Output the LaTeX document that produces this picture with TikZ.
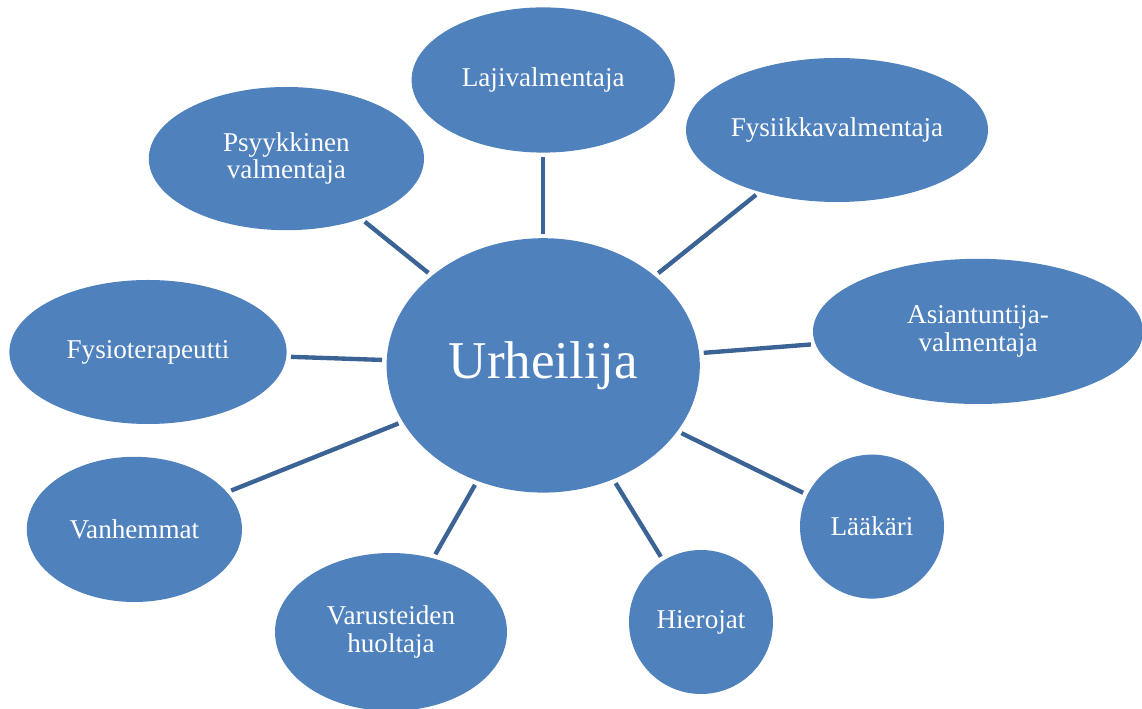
\documentclass[tikz,border=0pt]{standalone}
\usepackage{fontspec}
\setmainfont{Liberation Serif}
\usepackage{tikz}
\usetikzlibrary{shapes.geometric}
\definecolor{bubblefill}{HTML}{4F81BD}
\definecolor{linkline}{HTML}{3B6396}

\begin{document}
\begin{tikzpicture}
[
	bubble/.style={ellipse,fill=bubblefill,inner sep=0pt,text=white,align=center,
		font=\fontsize{19.3}{19.5}\selectfont},
	center/.style={bubble,font=\fontsize{37.8}{40}\selectfont},
	link/.style={linkline,line width=3.1pt,shorten <=0.11cm,shorten >=0.11cm}
]
\useasboundingbox (0,0) rectangle (28.55,17.725);

\node (urh) [center,minimum width=7.83cm,minimum height=6.36cm] at(13.58,8.59) {Urheilija};

\node (laji) [bubble,minimum width=6.58cm,minimum height=3.63cm] at(13.58,15.725) {Lajivalmentaja};
\node (fysiikka) [bubble,minimum width=7.55cm,minimum height=3.6cm] at(20.925,14.475) {Fysiikkavalmentaja};
\node (psyyk) [bubble,minimum width=6.88cm,minimum height=3.58cm] at(7.16,13.76) {Psyykkinen\\valmentaja};
\node (asiant) [bubble,minimum width=8.25cm,minimum height=3.63cm] at(24.45,9.44) {Asiantuntija-\\valmentaja};
\node (fysiot) [bubble,minimum width=6.93cm,minimum height=3.6cm] at(3.70,8.925) {Fysioterapeutti};
\node (vanh) [bubble,minimum width=5.38cm,minimum height=3.63cm] at(3.36,4.49) {Vanhemmat};
\node (laak) [bubble,minimum width=3.6cm,minimum height=3.6cm] at(21.8,4.56) {Lääkäri};
\node (hier) [bubble,minimum width=3.6cm,minimum height=3.6cm] at(17.525,2.175) {Hierojat};
\node (varus) [bubble,minimum width=5.8cm,minimum height=3.95cm] at(9.775,1.925) {Varusteiden\\huoltaja};

\draw [link] (laji) -- (urh);
\draw [link] (fysiikka) -- (urh);
\draw [link] (psyyk) -- (urh);
\draw [link] (asiant) -- (urh);
\draw [link] (fysiot) -- (urh);
\draw [link] (vanh) -- (urh);
\draw [link] (laak) -- (urh);
\draw [link] (hier) -- (urh);
\draw [link] (varus) -- (urh);

\end{tikzpicture}
\end{document}
